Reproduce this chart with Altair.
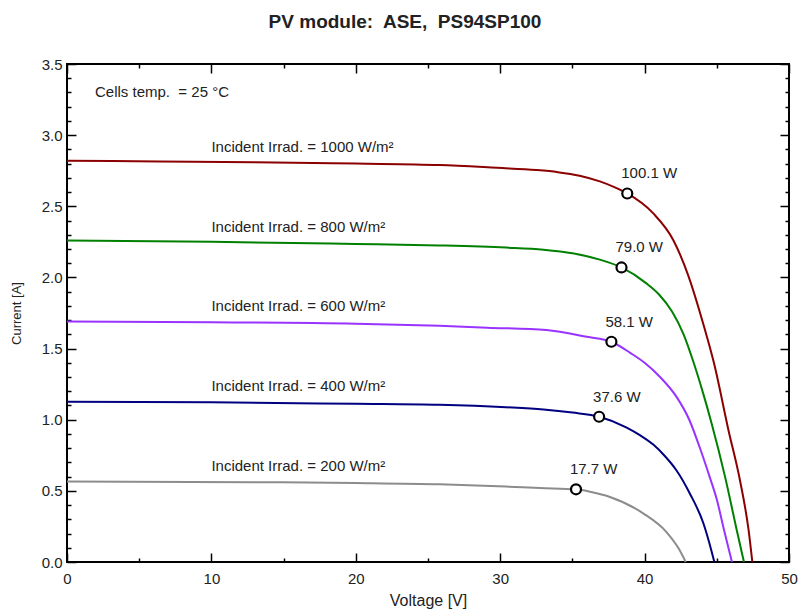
import altair as alt
import pandas as pd

# ---------------- data ----------------
series = ["1000", "800", "600", "400", "200"]
colors = ["#8b0000", "#008000", "#9933ff", "#000080", "#8c8c8c"]

v_1000 = [0, 6.4, 13, 20, 25.8, 29.8, 32.5, 34.0, 35.5, 36.9, 37.9, 38.8, 40.6, 42.0, 43.0, 44.1, 44.8, 45.8, 46.6, 47.2, 47.46]
i_1000 = [2.82, 2.815, 2.81, 2.80, 2.79, 2.77, 2.755, 2.74, 2.715, 2.675, 2.635, 2.59, 2.45, 2.26, 2.02, 1.66, 1.40, 0.93, 0.576, 0.225, 0.0]

v_800 = [0, 10, 20, 25.8, 30.4, 33.0, 35.0, 36.9, 38.4, 40.1, 41.0, 41.9, 42.7, 43.4, 44.07, 44.6, 45.57, 46.38, 46.88]
i_800 = [2.26, 2.25, 2.235, 2.225, 2.21, 2.195, 2.17, 2.125, 2.07, 1.96, 1.88, 1.76, 1.60, 1.40, 1.18, 0.99, 0.60, 0.225, 0.0]

v_600 = [0, 10, 20, 25.8, 29.1, 33.2, 36.0, 37.7, 39.0, 40.0, 41.07, 42.2, 43.1, 43.8, 44.5, 45.0, 45.5, 46.05]
i_600 = [1.69, 1.685, 1.675, 1.66, 1.647, 1.63, 1.583, 1.548, 1.47, 1.40, 1.30, 1.162, 0.998, 0.81, 0.60, 0.44, 0.225, 0.0]

v_400 = [0, 10, 20, 25.8, 30.4, 33.0, 35.0, 36.86, 38.76, 39.7, 40.6, 41.4, 42.2, 43.14, 44.07, 44.6, 44.83]
i_400 = [1.127, 1.122, 1.112, 1.105, 1.088, 1.072, 1.05, 1.021, 0.945, 0.89, 0.825, 0.745, 0.645, 0.48, 0.272, 0.09, 0.0]

v_200 = [0, 12.9, 20, 25.8, 30.4, 32.75, 35.25, 36.3, 37.55, 39.9, 41.5, 42.35, 42.85]
i_200 = [0.565, 0.561, 0.555, 0.546, 0.53, 0.52, 0.511, 0.492, 0.459, 0.342, 0.212, 0.096, 0.0]

mpp_v = [38.8, 38.4, 37.7, 36.85, 35.25]
mpp_i = [2.59, 2.07, 1.548, 1.021, 0.511]
mpp_label = ["100.1 W", "79.0 W", "58.1 W", "37.6 W", "17.7 W"]

irr_label_v = [10, 10, 10, 10, 10]
irr_label_i = [2.917, 2.354, 1.80, 1.237, 0.675]
irr_label = ["Incident Irrad. = 1000 W/m²", "Incident Irrad. = 800 W/m²",
             "Incident Irrad. = 600 W/m²", "Incident Irrad. = 400 W/m²",
             "Incident Irrad. = 200 W/m²"]

temp_v = [1.94]
temp_i = [3.30]
temp_label = ["Cells temp.\u00a0 = 25 °C"]

x_major = [0, 10, 20, 30, 40, 50]
x_minor = [5, 15, 25, 35, 45]
y_major = [0.0, 0.5, 1.0, 1.5, 2.0, 2.5, 3.0, 3.5]
y_minor = [round(k * 0.1, 1) for k in range(36) if k % 5 != 0]

# ---------------- tables ----------------
curves = []
for s, vv, ii in [("1000", v_1000, i_1000), ("800", v_800, i_800), ("600", v_600, i_600),
                  ("400", v_400, i_400), ("200", v_200, i_200)]:
    for k, (v, i) in enumerate(zip(vv, ii)):
        curves.append({"series": s, "V": v, "I": i, "k": k})
curves_df = pd.DataFrame(curves)
mpp_df = pd.DataFrame({"V": mpp_v, "I": mpp_i, "label": mpp_label})
irr_df = pd.DataFrame({"V": irr_label_v, "I": irr_label_i, "label": irr_label})
temp_df = pd.DataFrame({"V": temp_v, "I": temp_i, "label": temp_label})

FONT = "Liberation Sans"
TXT = "#222222"
xs = alt.Scale(domain=[0, 50], nice=False, zero=False)
ys = alt.Scale(domain=[0, 3.5], nice=False, zero=False)

def tick_axis(orient, values, size):
    return alt.Axis(orient=orient, values=values, offset=-size, tickSize=size,
                    labels=False, domain=False, grid=False, title=None,
                    tickColor="black", tickWidth=1.5)

def tick_layer(xo, xv, xsz, yo, yv, ysz):
    return alt.Chart(curves_df).mark_point(opacity=0).encode(
        x=alt.X("V:Q", scale=xs, axis=tick_axis(xo, xv, xsz)),
        y=alt.Y("I:Q", scale=ys, axis=tick_axis(yo, yv, ysz)),
    )

ticks = [
    tick_layer("bottom", x_major, 9, "left", y_major, 9),
    tick_layer("bottom", x_minor, 4, "left", y_minor, 4),
    tick_layer("top", x_major, 9, "right", y_major, 9),
    tick_layer("top", x_minor, 4, "right", y_minor, 4),
]

labels_layer = alt.Chart(curves_df).mark_point(opacity=0).encode(
    x=alt.X("V:Q", scale=xs, axis=alt.Axis(
        orient="bottom", values=x_major, ticks=False, tickSize=0, domain=False, grid=False,
        labelFlush=False, labelPadding=9, format="d", labelFont=FONT, labelFontSize=15,
        labelColor=TXT, title="Voltage [V]", titleFont=FONT, titleFontSize=16,
        titleFontWeight="normal", titleColor=TXT, titlePadding=6)),
    y=alt.Y("I:Q", scale=ys, axis=alt.Axis(
        orient="left", values=y_major, ticks=False, tickSize=0, domain=False, grid=False,
        labelPadding=5, format=".1f", labelFont=FONT, labelFontSize=15,
        labelColor=TXT, title="Current [A]", titleFont=FONT, titleFontSize=13,
        titleFontWeight="normal", titleColor=TXT, titlePadding=18)),
)

lines = alt.Chart(curves_df).mark_line(strokeWidth=2, interpolate="monotone").encode(
    x=alt.X("V:Q", scale=xs, axis=None),
    y=alt.Y("I:Q", scale=ys, axis=None),
    color=alt.Color("series:N", scale=alt.Scale(domain=series, range=colors), legend=None),
    detail="series:N",
    order="k:Q",
)

points = alt.Chart(mpp_df).mark_point(shape="circle", size=100, filled=True, fill="white",
                                      stroke="black", strokeWidth=2.2, opacity=1).encode(
    x=alt.X("V:Q", scale=xs, axis=None),
    y=alt.Y("I:Q", scale=ys, axis=None),
)

mpp_text = alt.Chart(mpp_df).mark_text(align="left", baseline="middle", dx=-6, dy=-20,
                                       font=FONT, fontSize=15, color=TXT).encode(
    x=alt.X("V:Q", scale=xs, axis=None),
    y=alt.Y("I:Q", scale=ys, axis=None),
    text="label:N",
)

irr_text = alt.Chart(irr_df).mark_text(align="left", baseline="middle",
                                       font=FONT, fontSize=15, color=TXT).encode(
    x=alt.X("V:Q", scale=xs, axis=None),
    y=alt.Y("I:Q", scale=ys, axis=None),
    text="label:N",
)

temp_text = alt.Chart(temp_df).mark_text(align="left", baseline="middle",
                                         font=FONT, fontSize=15, color=TXT).encode(
    x=alt.X("V:Q", scale=xs, axis=None),
    y=alt.Y("I:Q", scale=ys, axis=None),
    text="label:N",
)

chart = alt.layer(
    *ticks, labels_layer, lines, points, mpp_text, irr_text, temp_text
).resolve_axis(x="independent", y="independent").properties(
    width=722, height=498,
    background="white",
    title=alt.TitleParams("PV module:\u00a0 ASE,\u00a0 PS94SP100", font=FONT, fontSize=19,
                          fontWeight="bold", color=TXT, anchor="middle", dx=-23,
                          offset=25),
    autosize=alt.AutoSizeParams(type="none"),
    padding={"left": 67, "top": 64, "right": 12, "bottom": 48},
).configure_view(stroke="black", strokeWidth=2)

chart.save("out.html", embed_options={"renderer": "svg", "actions": False})
